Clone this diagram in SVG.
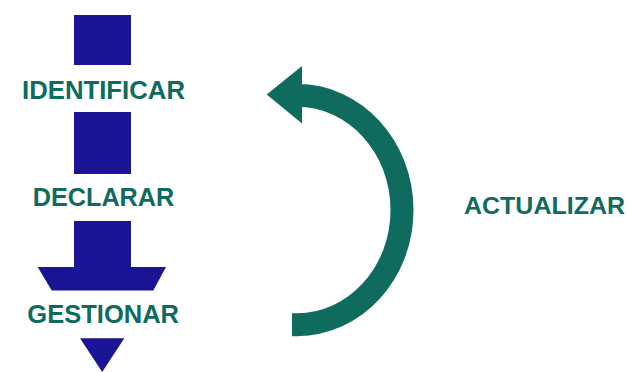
<svg xmlns="http://www.w3.org/2000/svg" width="628" height="372" viewBox="0 0 628 372">
<style>
.blk{fill:#1a1594}
.lbl{font-family:"Liberation Sans",Arial,sans-serif;font-weight:bold;font-size:25.5px;fill:#0e6b5d;text-anchor:middle}
.cyc{fill:none;stroke:#0e6b5d;stroke-width:23}
</style>
<rect width="628" height="372" fill="#ffffff"/>
<g id="identificar">
<rect class="blk" x="74" y="15" width="57" height="50"/>
<text class="lbl" x="103.5" y="99.3" style="font-size:26.5px" textLength="163" lengthAdjust="spacingAndGlyphs">IDENTIFICAR</text>
</g>
<g id="declarar">
<rect class="blk" x="74" y="112" width="57" height="62"/>
<text class="lbl" x="103.5" y="205.7" style="font-size:25.5px" textLength="141.6" lengthAdjust="spacingAndGlyphs">DECLARAR</text>
</g>
<g id="gestionar">
<polygon class="blk" points="74,221 131,221 131,267 166,267 153.3,290.5 51.7,290.5 37.7,267 74,267"/>
<text class="lbl" x="103.2" y="323.3" style="font-size:26.3px" textLength="151.7" lengthAdjust="spacingAndGlyphs">GESTIONAR</text>
<polygon class="blk" points="80,338.3 124.3,338.3 102.2,372"/>
</g>
<g id="actualizar">
<text class="lbl" x="544.5" y="214" style="font-size:24px" textLength="161" lengthAdjust="spacingAndGlyphs">ACTUALIZAR</text>
</g>
<g id="connectors">
<path class="cyc" d="M292 324.7 L297 324.7 C355 324.7 402 273.3 402 210 C402 146.7 355 95.3 297 95.3 L301.7 95.3"/>
<polygon fill="#0e6b5d" points="302,66 302,123.5 266.7,94.5"/>
</g>
</svg>
